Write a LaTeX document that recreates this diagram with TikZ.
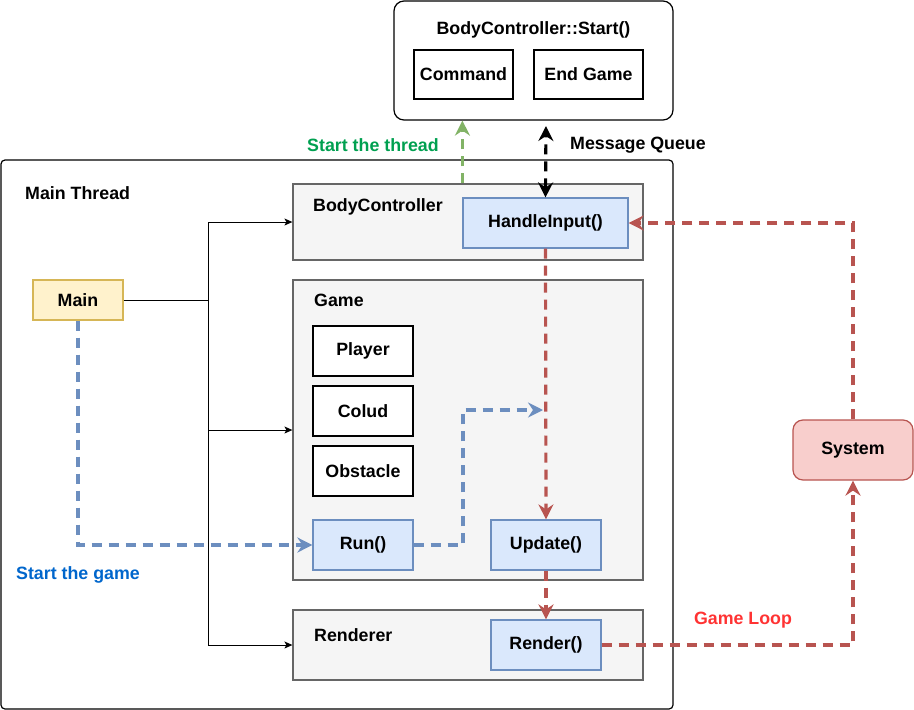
\documentclass[tikz,border=0pt]{standalone}
\usepackage{fontspec}
\setmainfont{Liberation Sans}
\usetikzlibrary{arrows.meta,calc}
\definecolor{grayfill}{HTML}{F5F5F5}
\definecolor{grayline}{HTML}{666666}
\definecolor{bluefill}{HTML}{DAE8FC}
\definecolor{blueline}{HTML}{6C8EBF}
\definecolor{yellowfill}{HTML}{FFF2CC}
\definecolor{yellowline}{HTML}{D6B656}
\definecolor{redfill}{HTML}{F8CECC}
\definecolor{redline}{HTML}{B85450}
\definecolor{greenline}{HTML}{82B366}
\definecolor{greentext}{HTML}{00A050}
\definecolor{bluetext}{HTML}{0066CC}
\definecolor{redtext}{HTML}{FF3333}
\tikzset{
  base/.style={font=\fontsize{17.8}{21}\selectfont\bfseries, inner sep=0pt},
  boxc/.style={base, draw=grayline, fill=grayfill, line width=1.2pt},
  fnbox/.style={base, draw=blueline, fill=bluefill, line width=1.2pt},
  thickbox/.style={base, draw=black, fill=white, line width=2.2pt},
  lbl/.style={base, anchor=west},
  thinarrow/.style={line width=1pt, -{Stealth[length=8pt,width=7pt,inset=2pt]}},
  dashline/.style={line width=3.2pt, dash pattern=on 10pt off 7pt},
  bigtip/.style={-{Stealth[length=15pt,width=15pt,inset=5pt]}},
}
\begin{document}
\begin{tikzpicture}[x=1pt,y=-1pt]
\useasboundingbox (0,0) rectangle (914,710);
% outer containers
\node[base, draw=black, line width=1.2pt, rounded corners=10pt, minimum width=279pt, minimum height=119pt] (top) at (533.5,60.5) {};
\node[base] (toptitle) at (533.5,30) {BodyController::Start()};
\node[thickbox, minimum width=99pt, minimum height=49pt] (cmd) at (463.5,74.5) {Command};
\node[thickbox, minimum width=109pt, minimum height=49pt] (endg) at (588.5,74.5) {End Game};

\node[base, draw=black, line width=1.2pt, rounded corners=4pt, minimum width=672pt, minimum height=549pt] (mt) at (337,434.5) {};
\node[lbl] (mtl) at (25,193) {Main Thread};

% BodyController
\node[boxc, minimum width=350pt, minimum height=76pt] (bcbox) at (468,222) {};
\node[lbl] (bcl) at (313,207) {BodyController};
\node[fnbox, minimum width=165pt, minimum height=50pt] (handle) at (545.5,223) {HandleInput()};

% Game
\node[boxc, minimum width=350pt, minimum height=300pt] (gamebox) at (468,430) {};
\node[lbl] (gl) at (314,300) {Game};
\node[thickbox, minimum width=100pt, minimum height=50pt] (player) at (363,351) {Player};
\node[thickbox, minimum width=100pt, minimum height=50pt] (colud) at (363,411) {Colud};
\node[thickbox, minimum width=100pt, minimum height=50pt] (obst) at (363,471) {Obstacle};
\node[fnbox, minimum width=100pt, minimum height=50pt] (run) at (363,545) {Run()};
\node[fnbox, minimum width=110pt, minimum height=50pt] (update) at (546,545) {Update()};

% Renderer
\node[boxc, minimum width=350pt, minimum height=70pt] (rbox) at (468,645) {};
\node[lbl] (rl) at (314,635) {Renderer};
\node[fnbox, minimum width=110pt, minimum height=50pt] (render) at (546,645) {Render()};

% Main and System
\node[base, draw=yellowline, fill=yellowfill, line width=1.2pt, minimum width=90pt, minimum height=40pt] (main) at (78,300) {Main};
\node[base, draw=redline, fill=redfill, line width=1.2pt, rounded corners=10pt, minimum width=120pt, minimum height=60pt] (system) at (853,450) {System};

% labels
\node[base, text=greentext] (lthread) at (373,145) {Start the thread};
\node[base] (lmq) at (638,145) {Message Queue};
\node[base, text=bluetext] (lgame) at (78,575) {Start the game};
\node[base, text=redtext] (lloop) at (743,620) {Game Loop};

% black tree connectors
\coordinate (j) at (208,300);
\draw[line width=1pt] (main.east) -- (j);
\draw[thinarrow] (j) |- (bcbox.west);
\draw[thinarrow] (j) |- (gamebox.west);
\draw[thinarrow] (j) |- (rbox.west);

% blue dashed
\coordinate (b1) at (463,545);
\coordinate (b2) at (543,410);
\draw[dashline, blueline, bigtip] (main.south) |- (run.west);
\draw[dashline, blueline, bigtip] (run.east) -- (b1) |- (b2);

% red dashed loop
\draw[dashline, redline, bigtip] (handle.south) -- (update.north);
\draw[dashline, redline, bigtip] (update.south) -- (render.north);
\draw[dashline, redline, bigtip] (render.east) -| (system.south);
\draw[dashline, redline, bigtip] (system.north) |- (handle.east);

% green dashed
\draw[dashline, greenline, bigtip] (handle.west |- bcbox.north) -- (handle.west |- top.south);

% message queue
\coordinate (mq) at (546,126);
\draw[dashline, black, {Stealth[length=15pt,width=15pt,inset=5pt]}-{Stealth[length=15pt,width=15pt,inset=5pt]}] (handle.north) -- (mq);
\end{tikzpicture}
\end{document}
